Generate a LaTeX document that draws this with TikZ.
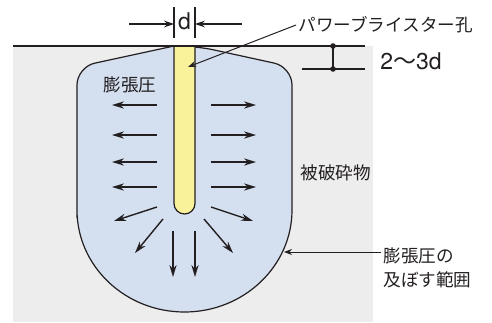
\documentclass[tikz,border=0pt]{standalone}
\usepackage{fontspec}
\setmainfont{Noto Sans CJK JP}
\newfontfamily\heros{TeX Gyre Heros}
\usetikzlibrary{arrows.meta}
\definecolor{rockgray}{RGB}{237,237,237}
\definecolor{zoneblue}{RGB}{212,223,240}
\definecolor{holeyellow}{RGB}{250,242,155}
\definecolor{ink}{RGB}{35,31,32}

\begin{document}
\begin{tikzpicture}[x=0.5pt,y=-0.5pt]
        \tikzstyle{outline} = [draw=ink, line width=0.6pt]
        \tikzstyle{push} = [draw=ink, line width=0.7pt, -{Stealth[length=6pt,width=3.6pt]}]
        \tikzstyle{dimarrow} = [draw=ink, line width=0.6pt, -{Stealth[length=5pt,width=3.4pt]}]
        \tikzstyle{leader} = [draw=ink, line width=0.5pt, -{Stealth[length=4pt,width=3pt]}]
        \tikzstyle{jtext} = [font=\fontsize{8.8}{11}\selectfont, text=ink, inner sep=1pt]
        \tikzstyle{dimtext} = [font=\fontsize{11.5}{13}\selectfont, text=ink, inner sep=0pt]
        \useasboundingbox (0,0) rectangle (492,322);
        \fill[rockgray] (13,46) rectangle (373,322);
        % zone reached by the expansion pressure
        \path[outline, fill=zoneblue] (174,46) [rounded corners=9pt] -- (77,67) -- (77,200)
            [sharp corners] -- (77,210) .. controls (77,266) and (125,312) .. (184.5,312)
            .. controls (244,312) and (292,266) .. (292,210)
            [rounded corners=9pt] -- (292,67) -- (196,46) [sharp corners] -- cycle;
        % drill hole
        \path[outline, fill=holeyellow, rounded corners=5.25pt] (174,46) -- (174,214) -- (195,214) -- (195,46);
        \draw[outline] (13,46) -- (365,46);
        \foreach \y in {105,135,162,187} {
            \draw[push] (157,\y) -- (112,\y);
            \draw[push] (211,\y) -- (256,\y);
        }
        \draw[push] (157,207) -- (114,221);
        \draw[push] (211,207) -- (253,221);
        \draw[push] (163,219) -- (135,253);
        \draw[push] (204,219) -- (233,253);
        \draw[push] (173,231) -- (173,277);
        \draw[push] (195,231) -- (195,277);
        % hole diameter
        \draw[outline] (174,7) -- (174,38);
        \draw[outline] (195,7) -- (195,38);
        \node[dimtext] (dlabel) at (184.5,21) {\heros d};
        \draw[dimarrow] (129,24) -- (174,24);
        \draw[dimarrow] (242,24) -- (195,24);
        % depth of the blasted layer
        \draw[outline] (302,69) -- (365,69);
        \draw[outline] (333,46) -- (333,69);
        \fill[ink] (333,46) circle (1.4pt);
        \fill[ink] (333,69) circle (1.4pt);
        \node[dimtext, anchor=west] (depthlabel) at (380,61) {{\heros 2}〜{\heros 3d}};
        % labels
        \node[jtext, anchor=west] (holelabel) at (296,25) {パワーブライスター孔};
        \coordinate (holetip) at (188,67);
        \draw[leader] (holelabel.west) -- (holetip);
        \node[jtext] (pressure) at (130,85) {膨張圧};
        \node[jtext, anchor=west] (rock) at (298,173) {被破砕物};
        \node[jtext, anchor=west] (reach1) at (381,256) {膨張圧の};
        \node[jtext, anchor=west] (reach2) at (381,280) {及ぼす範囲};
        \coordinate (edge) at (284,252);
        \draw[leader] (reach1.west |- edge) -- (edge);
\end{tikzpicture}
\end{document}
